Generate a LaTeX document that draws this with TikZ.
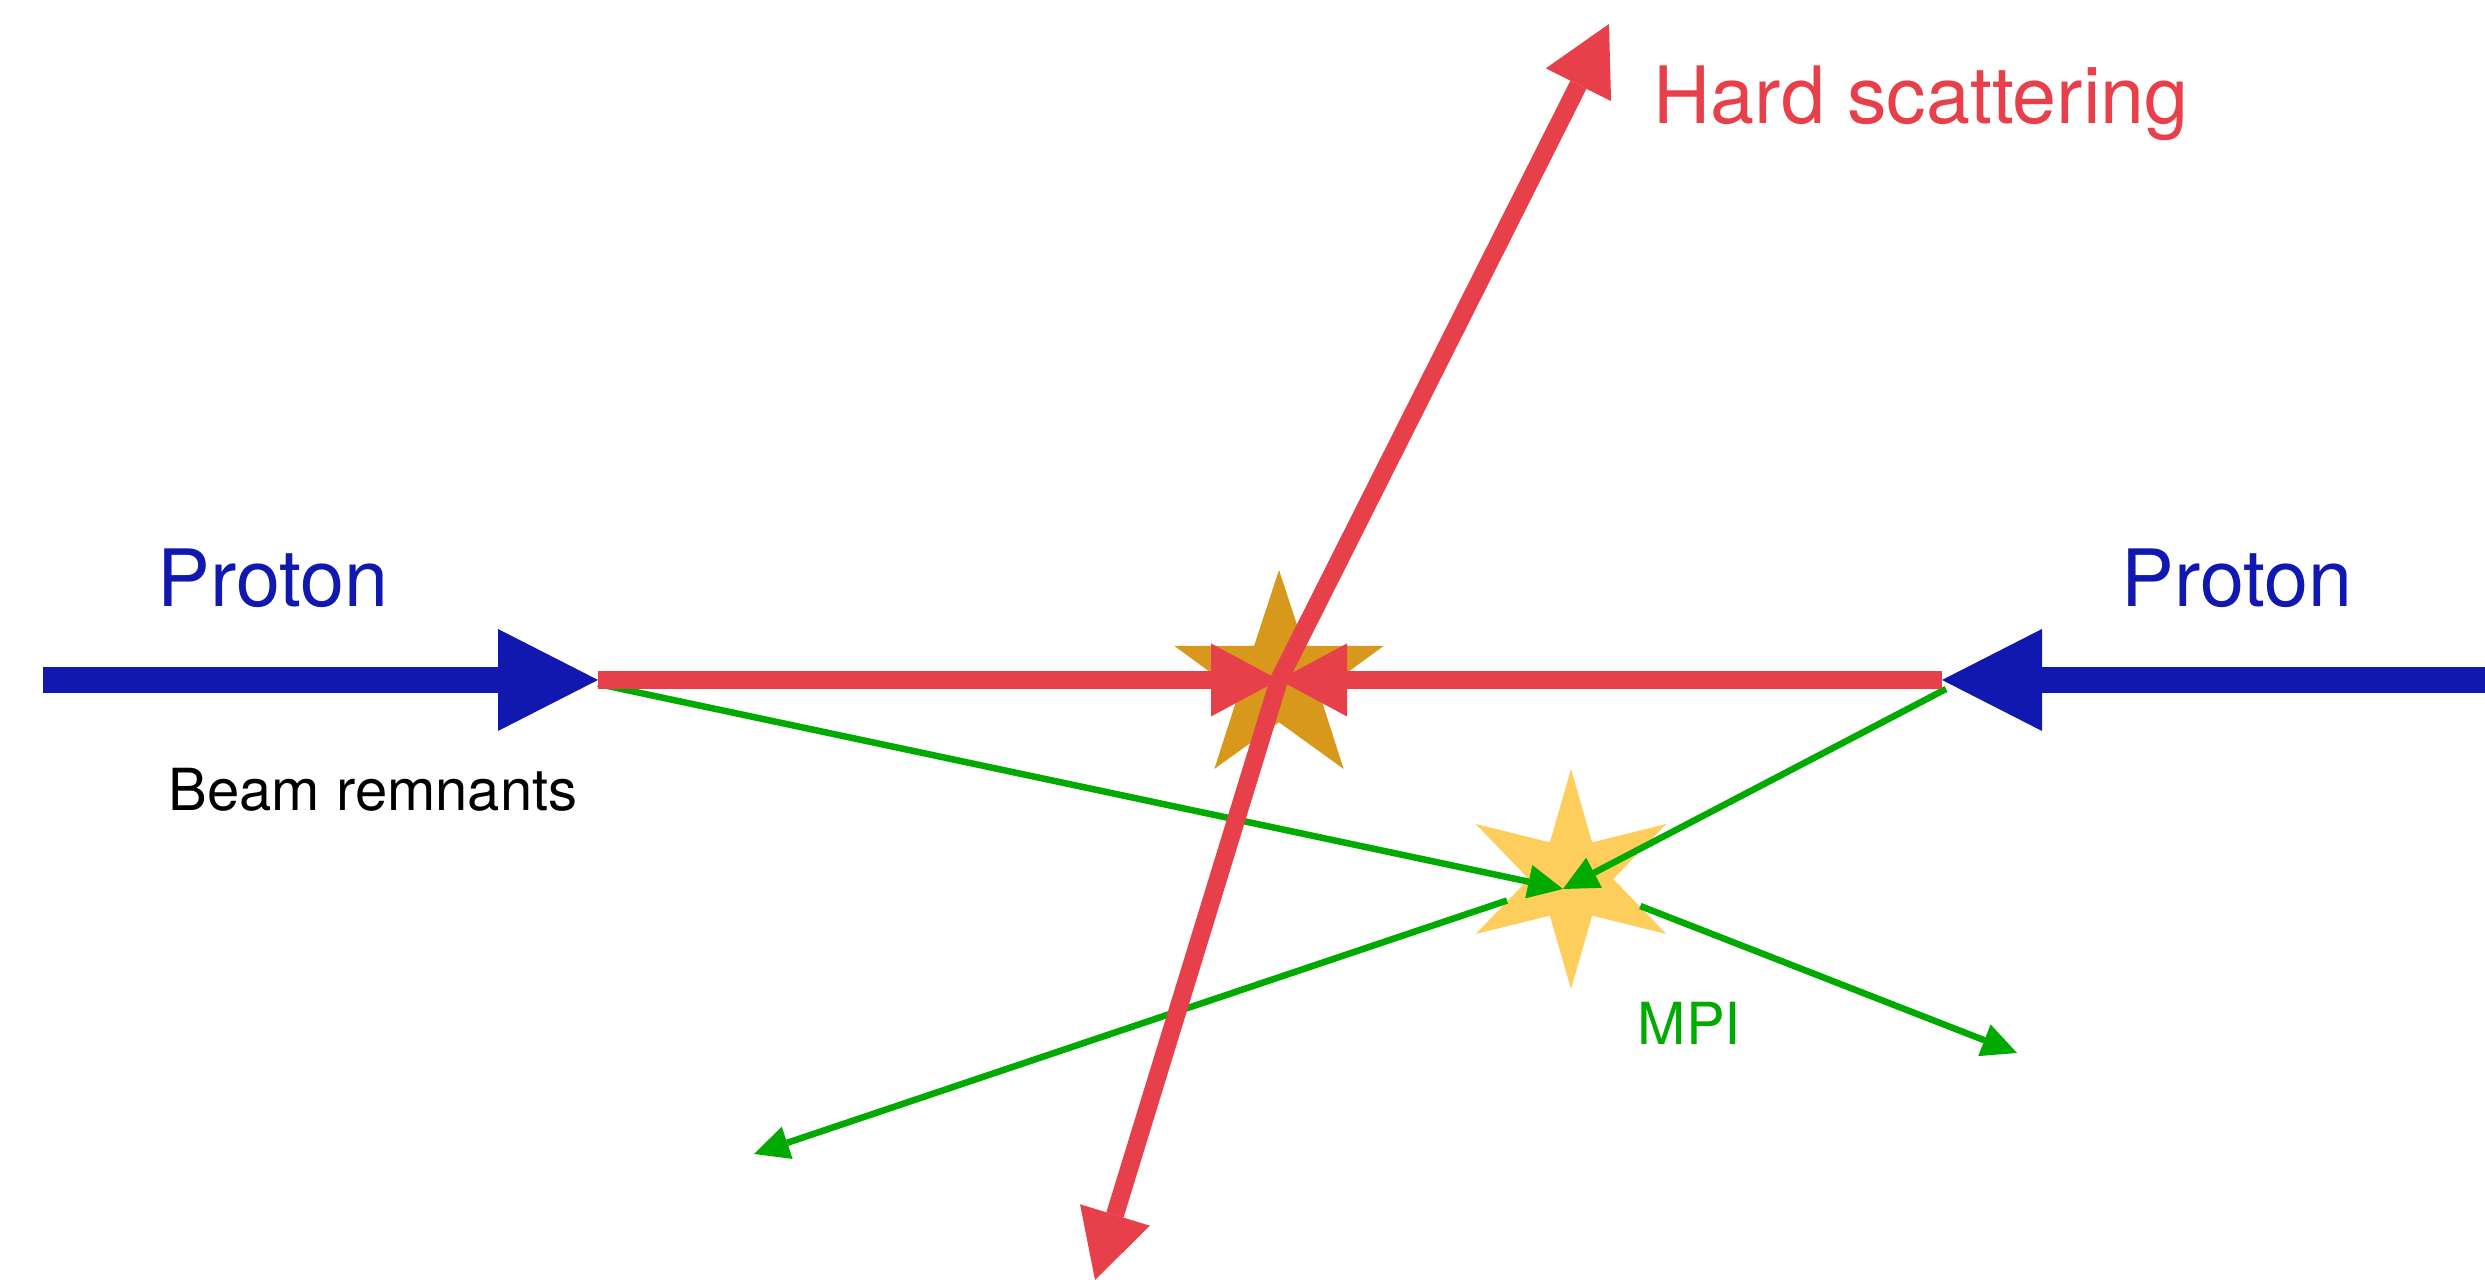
\documentclass[tikz,border=0pt]{standalone}
\usepackage{fontspec}
\setsansfont{TeX Gyre Heros}
\usetikzlibrary{arrows.meta,shapes.geometric}
\definecolor{ProtonBlue}{HTML}{1018B0}
\definecolor{HardRed}{HTML}{E8404A}
\definecolor{HardGold}{HTML}{D8981C}
\definecolor{MpiGreen}{HTML}{00AA00}
\definecolor{MpiYellow}{HTML}{FECE5C}

\begin{document}
\begin{tikzpicture}[
    font=\sffamily,
    beam/.style={
        -{Triangle[length=10mm,width=10.2mm,line width=0pt]},
        line width=2.6mm,
        draw=ProtonBlue
    },
    hardline/.style={
        -{Triangle[length=6.8mm,width=7.3mm,line width=0pt]},
        line width=1.8mm,
        draw=HardRed
    },
    mpiline/.style={
        -{Triangle[length=3.5mm,width=3.4mm,line width=0pt]},
        line width=0.65mm,
        draw=MpiGreen
    },
    burst/.style={
        star,
        draw=none,
        inner sep=0pt,
        minimum size=22mm,
        star point ratio=2.6
    },
    big label/.style={
        anchor=base west,
        inner sep=0pt,
        font=\sffamily\fontsize{22.5}{27}\selectfont
    },
    small label/.style={
        anchor=base west,
        inner sep=0pt,
        font=\sffamily\fontsize{16.5}{20}\selectfont
    }
]
    \useasboundingbox (0,0) rectangle (24.85,12.8);

    % interaction points
    \node[burst, star points=5, fill=HardGold] (hard) at (12.79,6.00) {};
    \node[burst, star points=6, fill=MpiYellow] (mpi) at (15.71,4.01) {};
    \coordinate (collide) at (15.63,3.91);

    % beam ends and outgoing ends
    \coordinate (beamL) at (0.43,6.00);
    \coordinate (pL) at (5.98,6.00);
    \coordinate (beamR) at (24.85,6.00);
    \coordinate (pR) at (19.42,6.00);
    \coordinate (remL) at (5.98,5.96);
    \coordinate (remR) at (19.46,5.91);
    \coordinate (jetup) at (16.09,12.56);
    \coordinate (jetdown) at (10.95,0.00);
    \coordinate (outLL) at (7.54,1.26);
    \coordinate (outLR) at (20.17,2.27);

    % MPI
    \draw[mpiline] (mpi) -- (outLL);
    \draw[mpiline] (mpi) -- (outLR);
    \draw[mpiline] (remL) -- (collide);
    \draw[mpiline] (remR) -- (collide);

    % hard scattering
    \draw[hardline] (pL) -- (hard.center);
    \draw[hardline] (pR) -- (hard.center);
    \draw[hardline] (hard.center) -- (jetup);
    \draw[hardline] (hard.center) -- (jetdown);

    % protons
    \draw[beam] (beamL) -- (pL);
    \draw[beam] (beamR) -- (pR);

    \node[big label, text=ProtonBlue] (protonL) at (1.57,6.73) {Proton};
    \node[big label, text=ProtonBlue] (protonR) at (21.21,6.73) {Proton};
    \node[big label, text=HardRed] (hardtext) at (16.53,11.56) {Hard scattering};
    \node[small label] (remtext) at (1.68,4.69) {Beam remnants};
    \node[small label, text=MpiGreen] (mpitext) at (16.37,2.35) {MPI};
\end{tikzpicture}
\end{document}
